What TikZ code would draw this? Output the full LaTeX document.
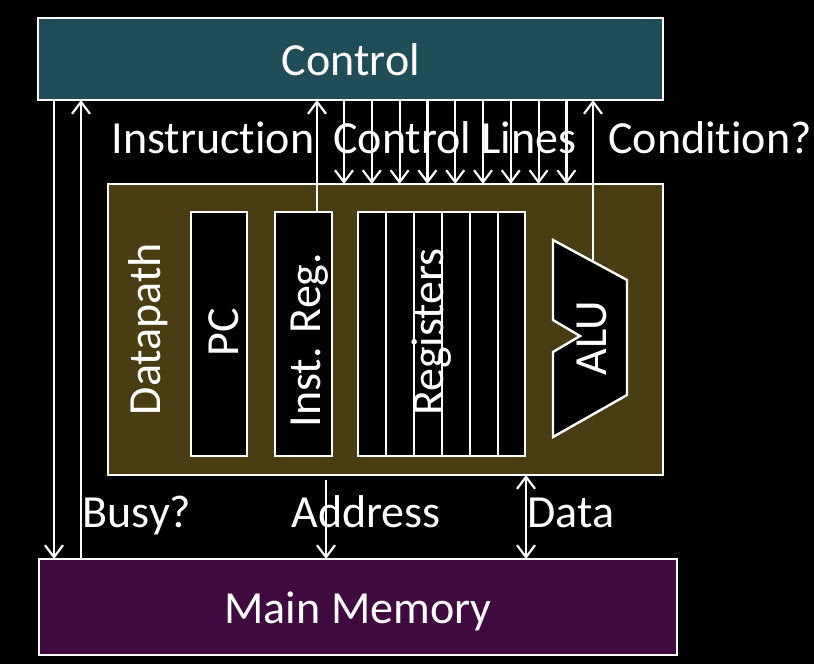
\documentclass[tikz,border=0pt]{standalone}
\usepackage{fontspec}
\setmainfont{Carlito}[Ligatures=NoCommon]
\usetikzlibrary{arrows.meta}
\definecolor{ctrlfill}{RGB}{32,78,88}
\definecolor{dpfill}{RGB}{74,61,18}
\definecolor{memfill}{RGB}{64,10,64}
\tikzset{
  box/.style={draw=white, line width=2pt, inner sep=0pt, outer sep=0pt},
  lbl/.style={text=white, font=\fontsize{46}{54}\selectfont, inner sep=0pt},
  arr/.style={draw=white, line width=2.2pt, -{Straight Barb[length=12pt,width=18pt,line width=2.2pt]}},
  darr/.style={draw=white, line width=2.2pt, {Straight Barb[length=12pt,width=18pt,line width=2.2pt]}-{Straight Barb[length=12pt,width=18pt,line width=2.2pt]}},
  regline/.style={draw=white, line width=2pt}
}
\begin{document}
\begin{tikzpicture}[x=1pt,y=-1pt]
\useasboundingbox (0,0) rectangle (814,664);
\fill[black] (0,0) rectangle (814,664);
% boxes
\node[box, fill=ctrlfill, minimum width=625pt, minimum height=82pt] (ctrl) at (350.5,59) {};
\node[box, fill=dpfill, minimum width=555pt, minimum height=291pt] (dp) at (385.5,329.5) {};
\node[box, fill=memfill, minimum width=638pt, minimum height=96pt] (mem) at (358,607) {};
\node[box, fill=black, minimum width=56pt, minimum height=244pt] (pc) at (219,334) {};
\node[box, fill=black, minimum width=57pt, minimum height=244pt] (ir) at (303.5,334) {};
\node[box, fill=black, minimum width=167pt, minimum height=244pt] (regs) at (441.5,334) {};
\foreach \x in {386,414,442,470,498} {
  \draw[regline] (\x,0 |- regs.north) -- (\x,0 |- regs.south);
}
% ALU
\draw[white, line width=2.4pt, fill=black, line join=miter]
  (553,240) -- (627,280) -- (627,395) -- (553,437) -- (553,352) -- (580,336) -- (553,320) -- cycle;
\coordinate (alutop) at (593,261);
% texts
\node[lbl, anchor=base] (tctrl) at (351,75) {Control};
\node[lbl, anchor=base] (tmem) at (358,623) {Main Memory};
\node[lbl, anchor=base] (tinst) at (213,153) {Instruction};
\node[lbl, anchor=base] (tcl) at (455,153) {Control Lines};
\node[lbl, anchor=base] (tcond) at (710,153) {Condition?};
\node[lbl, anchor=base] (tbusy) at (137,527) {Busy?};
\node[lbl, anchor=base] (taddr) at (366,527) {Address};
\node[lbl, anchor=base] (tdata) at (571,527) {Data};
\node[lbl, anchor=base, rotate=90] (tdp) at (160,329) {Datapath};
\node[lbl, anchor=base, rotate=90] (tpc) at (238,332) {PC};
\node[lbl, anchor=base, rotate=90] (tir) at (320,340) {Inst. Reg.};
\node[lbl, anchor=base, rotate=90] (treg) at (443,332) {Registers};
\node[lbl, anchor=base, rotate=90] (talu) at (606,338) {ALU};
% connectors
\coordinate (ia) at (317,0);
\draw[arr] (ia |- ir.north) -- (ia |- ctrl.south);
\draw[arr] (alutop) -- (alutop |- ctrl.south);
\foreach \i in {0,...,8} {
  \coordinate (cl\i) at ({344+27.8*\i},0);
  \draw[arr] (cl\i |- ctrl.south) -- (cl\i |- dp.north);
}
\coordinate (la) at (54,0);
\coordinate (lb) at (81,0);
\draw[arr] (la |- ctrl.south) -- (la |- mem.north);
\draw[arr] (lb |- mem.north) -- (lb |- ctrl.south);
\coordinate (ad) at (326,0);
\draw[arr, shorten <=5pt] (ad |- dp.south) -- (ad |- mem.north);
\coordinate (da) at (526,0);
\draw[darr] (da |- dp.south) -- (da |- mem.north);
\end{tikzpicture}
\end{document}
